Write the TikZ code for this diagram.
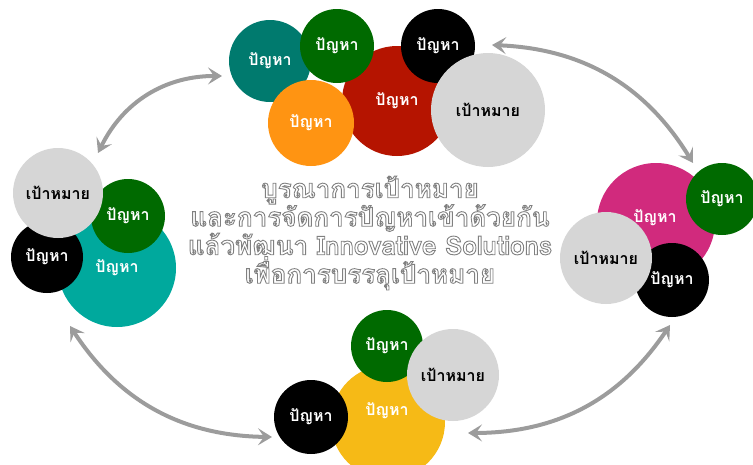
\documentclass[tikz,border=0pt]{standalone}
\usepackage{fontspec}
\usetikzlibrary{arrows.meta}
\newfontfamily\thaifont[Script=Thai]{Loma}
\definecolor{tealdark}{HTML}{007A6E}
\definecolor{leafgreen}{HTML}{006A00}
\definecolor{orangeA}{HTML}{FF9412}
\definecolor{redA}{HTML}{B51400}
\definecolor{goalgray}{HTML}{D6D6D6}
\definecolor{tealbig}{HTML}{00A99D}
\definecolor{magentaA}{HTML}{D12A7D}
\definecolor{yellowA}{HTML}{F6BA16}
\definecolor{arrowgray}{HTML}{9C9C9C}
% hollow (stroked) lettering for the central statement
\newcommand{\hollow}[1]{\special{pdf:literal direct 1 Tr 0.9 w 0.5 G}#1\special{pdf:literal direct 0 Tr}}
\tikzset{
  bubble/.style={circle, inner sep=0pt, minimum size=#1, draw=none,
    font=\thaifont\bfseries\fontsize{16}{18}\selectfont},
  problem/.style={bubble=#1, text=white},
  goal/.style={bubble=#1, fill=goalgray, text=black},
  cycle/.style={draw=arrowgray, line width=4pt,
    {Stealth[length=14pt,width=17pt,inset=6pt]}-{Stealth[length=14pt,width=17pt,inset=6pt]}},
  heading/.style={align=center, font=\thaifont\bfseries\fontsize{26}{28.5}\selectfont}
}
\begin{document}
\begin{tikzpicture}[x=1pt,y=-1pt]
\useasboundingbox (0,0) rectangle (753,464);

% top cluster
\node[problem=110pt, fill=redA] (t-red) at (397,101) {ปัญหา};
\node[problem=82pt, fill=tealdark] (t-teal) at (270,61) {ปัญหา};
\node[problem=74pt, fill=leafgreen] (t-green) at (337,46) {ปัญหา};
\node[problem=86pt, fill=orangeA] (t-orange) at (311,123) {ปัญหา};
\node[problem=74pt, fill=black] (t-black) at (438,46) {ปัญหา};
\node[goal=114pt] (t-goal) at (488,110) {เป้าหมาย};

% left cluster
\node[problem=118pt, fill=tealbig] (l-teal) at (117,268) {ปัญหา};
\node[problem=72pt, fill=black] (l-black) at (47,257) {ปัญหา};
\node[problem=74pt, fill=leafgreen] (l-green) at (128,216) {ปัญหา};
\node[goal=90pt] (l-goal) at (58,193) {เป้าหมาย};

% right cluster
\node[problem=118pt, fill=magentaA] (r-mag) at (656,222) {};
\node[problem=10pt] (r-mag-label) at (655,218) {ปัญหา};
\node[problem=72pt, fill=leafgreen] (r-green) at (722,199) {ปัญหา};
\node[problem=74pt, fill=black] (r-black) at (672,280) {ปัญหา};
\node[goal=92pt] (r-goal) at (606,258) {เป้าหมาย};

% bottom cluster
\node[problem=114pt, fill=yellowA] (b-yellow) at (388,422) {};
\node[problem=10pt] (b-yellow-label) at (387,411) {ปัญหา};
\node[problem=72pt, fill=leafgreen] (b-green) at (387,346) {ปัญหา};
\node[problem=74pt, fill=black] (b-black) at (311,417) {ปัญหา};
\node[goal=92pt] (b-goal) at (453,375) {เป้าหมาย};

% central statement
\node[heading] (title) at (370,233) {%
  \hollow{บูรณาการเป้าหมาย}\\
  \hollow{และการจัดการปัญหาเข้าด้วยกัน}\\
  \hollow{แล้วพัฒนา Innovative Solutions}\\
  \hollow{เพื่อการบรรลุเป้าหมาย}};

% arrow end points
\coordinate (a1s) at (98,153);
\coordinate (a1e) at (222,76);
\coordinate (a2s) at (492,45);
\coordinate (a2e) at (693,163);
\coordinate (a3s) at (70,326);
\coordinate (a3e) at (272,437);
\coordinate (a4s) at (670,325);
\coordinate (a4e) at (468,433);

% cycle arrows between the clusters
\draw[cycle] (a1s) to[bend left=32] (a1e);
\draw[cycle] (a2s) to[bend left=28] (a2e);
\draw[cycle] (a3s) to[bend right=28] (a3e);
\draw[cycle] (a4s) to[bend left=28] (a4e);
\end{tikzpicture}
\end{document}
